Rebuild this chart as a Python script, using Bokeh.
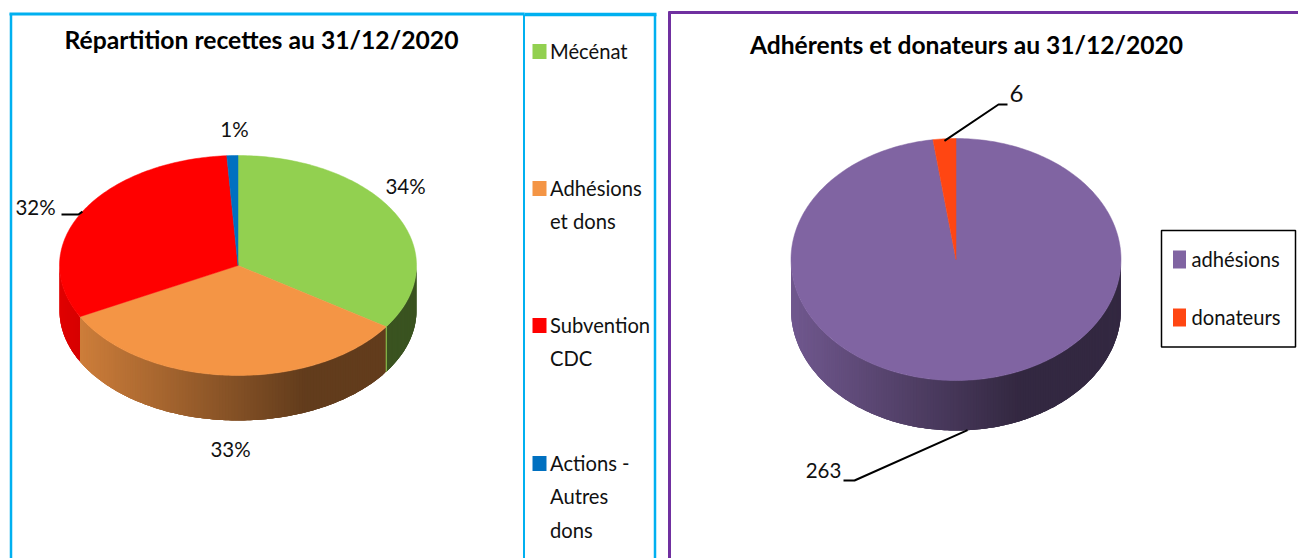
import math
from bokeh.plotting import figure
from bokeh.models import Range1d
from bokeh.core.properties import value
from bokeh.embed import file_html
from bokeh.resources import INLINE

# --- data ---
recettes_labels = ["Mécénat", "Adhésions\net dons", "Subvention\nCDC", "Actions -\nAutres\ndons"]
recettes_values = [34.4, 32.9, 31.7, 1.0]
recettes_colors = ["#92D050", "#F49545", "#FF0000", "#0070C0"]
adherents_labels = ["adhésions", "donateurs"]
adherents_values = [263, 6]
adherents_colors = ["#8064A2", "#FF4612"]
title_left = "Répartition recettes au 31/12/2020"
title_right = "Adhérents et donateurs au 31/12/2020"

W, H = 1298, 558
FONT = value("Lato")
p = figure(width=W, height=H, output_backend="svg", toolbar_location=None,
           x_range=Range1d(0, W), y_range=Range1d(H, 0), min_border=0,
           background_fill_color="white", border_fill_color="white", outline_line_color=None)
p.axis.visible = False
p.grid.visible = False


def shade(hex_color, m):
    r, g, b = [int(hex_color[i:i + 2], 16) for i in (1, 3, 5)]
    return "#%02x%02x%02x" % (round(r * m), round(g * m), round(b * m))


def pie3d(values, colors, cx, cy, rx, ry, depth):
    total = sum(values)
    a = 0.0
    spans = []
    for v, c in zip(values, colors):
        b = a + v / total * 2 * math.pi
        spans.append((a, b, c))
        a = b
    pt = lambda t: (cx + rx * math.sin(t), cy - ry * math.cos(t))
    xs, ys, fc = [], [], []
    for a, b, c in spans:
        lo, hi = max(a, math.pi / 2), min(b, 3 * math.pi / 2)
        if hi <= lo:
            continue
        n = max(2, int((hi - lo) / math.radians(1.0)))
        for i in range(n):
            t0 = lo + (hi - lo) * i / n
            t1 = lo + (hi - lo) * min(i + 3, n) / n
            tm = lo + (hi - lo) * (i + 0.5) / n
            ps = [pt(t0 + (t1 - t0) * j / 3) for j in range(4)]
            f = (pt(tm)[0] - (cx - rx)) / (2 * rx)
            m = max(0.40, 0.88 - (0.88 - 0.40) * f / 0.69)
            xs.append([q[0] for q in ps] + [q[0] for q in reversed(ps)])
            ys.append([q[1] for q in ps] + [q[1] + depth for q in reversed(ps)])
            fc.append(shade(c, m))
    p.patches(xs, ys, fill_color=fc, line_color=None)
    xs, ys, fc = [], [], []
    for a, b, c in spans:
        n = max(2, int((b - a) / math.radians(1)))
        pts = [pt(a + (b - a) * i / n) for i in range(n + 1)]
        xs.append([cx] + [q[0] for q in pts])
        ys.append([cy] + [q[1] for q in pts])
        fc.append(c)
    p.patches(xs, ys, fill_color=fc, line_color=fc, line_width=0.5)
    return spans, pt


def txt(x, y, s, size, bold=False, align="left", color="#111111"):
    p.text([x], [y], text=[s], text_font=FONT, text_font_size=f"{size}px",
           text_font_style="bold" if bold else "normal", text_align=align,
           text_baseline="middle", text_color=color)


def mid(span):
    return (span[0] + span[1]) / 2


def pct(v, total):
    return f"{round(v / total * 100)}%"


# frames
BLUE, PURPLE = "#00B0F0", "#7030A0"
p.line([10.5, 10.5], [13, 558], line_color=BLUE, line_width=2.5)
p.line([9, 524], [13.5, 13.5], line_color=BLUE, line_width=3)
p.line([524, 656], [14, 14], line_color=BLUE, line_width=3.5)
p.line([523.5, 523.5], [14, 558], line_color=BLUE, line_width=2)
p.line([654.5, 654.5], [14, 558], line_color=BLUE, line_width=2.5)
p.line([669, 669], [11, 558], line_color=PURPLE, line_width=3)
p.line([668, 1298], [12, 12], line_color=PURPLE, line_width=3)

# left pie
CX, CY, RX, RY, D = 237.5, 265, 178.5, 110, 45
sp, pt = pie3d(recettes_values, recettes_colors, CX, CY, RX, RY, D)
gx, gy = pt(sp[0][1])
p.line([gx, gx], [gy, gy + D], line_color=recettes_colors[0], line_width=1)
total = sum(recettes_values)
txt(261, 38.5, title_left, 24.7, bold=True, align="center", color="#000000")
txt(405, 185, pct(recettes_values[0], total), 20.5, align="center")
txt(230, 448, pct(recettes_values[1], total), 20.5, align="center")
txt(35, 206, pct(recettes_values[2], total), 20.5, align="center")
txt(234, 128, pct(recettes_values[3], total), 20.5, align="center")
lx, ly = pt(mid(sp[2]))
p.line([61, 78, lx], [214, 214, ly], line_color="#000000", line_width=2)

# left legend
for lab, col, y0 in zip(recettes_labels, recettes_colors, [52, 189, 326, 464]):
    p.rect([539], [y0 - 1], width=14, height=15, fill_color=col, line_color=None)
    for i, part in enumerate(lab.split("\n")):
        txt(549.5, y0 - 2 + i * 33.5, part, 20.2)

# right pie
CX2, CY2, RX2, RY2, D2 = 955.5, 259, 165, 121, 50
sp2, pt2 = pie3d(adherents_values, adherents_colors, CX2, CY2, RX2, RY2, D2)
txt(966, 43.5, title_right, 24.6, bold=True, align="center", color="#000000")
txt(1016, 93, str(adherents_values[1]), 24, align="center")
txt(823, 470, str(adherents_values[0]), 20.5, align="center")
x6, y6 = pt2(mid(sp2[1]))
p.line([x6, 998, 1007], [y6 + 2, 104, 104], line_color="#000000", line_width=2)
x2, y2 = pt2(mid(sp2[0]))
p.line([x2, 854, 843], [y2 + D2, 480, 480], line_color="#000000", line_width=2)

# right legend
p.quad(left=[1161], right=[1295], top=[230], bottom=[346.5], fill_color="white",
       line_color="#000000", line_width=1.5)
for lab, col, y0 in zip(adherents_labels, adherents_colors, [259, 317]):
    p.rect([1179], [y0], width=13, height=18, fill_color=col, line_color=None)
    txt(1191, y0 - 1, lab, 20.2)

open("out.html", "w").write(file_html(p, INLINE))
